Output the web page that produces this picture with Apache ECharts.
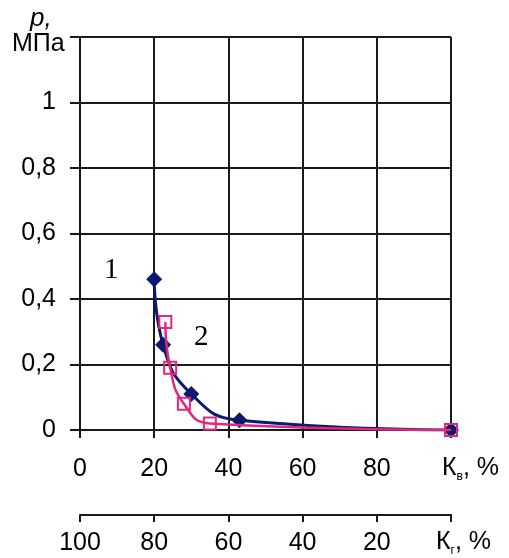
<!DOCTYPE html>
<html>
<head>
<meta charset="utf-8">
<script src="https://cdn.jsdelivr.net/npm/echarts@6/dist/echarts.min.js"></script>
<style>
html,body{margin:0;padding:0;background:#fff;}
#chart{width:509px;height:558px;}
</style>
</head>
<body>
<div id="chart"></div>
<script>
// Data
const kv1 = [20, 22.4, 30, 43, 100];          // Кв, % (curve 1)
const p1 = [0.46, 0.26, 0.11, 0.03, 0];       // p, МПа (curve 1)
const kv2 = [23, 24.3, 28, 35, 100];          // Кв, % (curve 2)
const p2 = [0.33, 0.19, 0.08, 0.02, 0];       // p, МПа (curve 2)
const yTicks = [0, 0.2, 0.4, 0.6, 0.8, 1];
const kvTicks = [0, 20, 40, 60, 80];
const kgTicks = [100, 80, 60, 40, 20];
const seriesNames = ['1', '2'];

const FONT = 'Liberation Sans, Arial, sans-serif';
const chart = echarts.init(document.getElementById('chart'), null, {renderer: 'canvas'});

const axisLineStyle = {color: '#1a1a1a', width: 2};

chart.setOption({
  animation: false,
  backgroundColor: '#fff',
  grid: {left: 80, right: 58, top: 37, bottom: 128},
  xAxis: [
    {
      type: 'value', min: 0, max: 100, interval: 20, position: 'bottom',
      axisLine: {show: true, lineStyle: axisLineStyle},
      axisTick: {show: true, length: 8, lineStyle: axisLineStyle},
      splitLine: {show: true, lineStyle: axisLineStyle},
      axisLabel: {
        margin: 27, color: '#000', fontFamily: FONT, fontSize: 25,
        formatter: v => kvTicks.indexOf(v) >= 0 ? String(v) : ''
      }
    },
    {
      type: 'value', min: 0, max: 100, interval: 20, inverse: true,
      position: 'bottom', offset: 85,
      axisLine: {show: true, lineStyle: axisLineStyle},
      axisTick: {show: true, length: 7, lineStyle: axisLineStyle},
      splitLine: {show: false},
      axisLabel: {
        margin: 16, color: '#000', fontFamily: FONT, fontSize: 25,
        formatter: v => kgTicks.indexOf(v) >= 0 ? String(v) : ''
      }
    }
  ],
  yAxis: {
    type: 'value', min: 0, max: 1.2, interval: 0.2,
    axisLine: {show: true, lineStyle: axisLineStyle},
    axisTick: {show: true, length: 10, lineStyle: axisLineStyle},
    splitLine: {show: true, lineStyle: axisLineStyle},
    axisLabel: {
      margin: 24, color: '#000', fontFamily: FONT, fontSize: 25,
      formatter: v => {
        const r = Number(v.toFixed(1));
        return yTicks.indexOf(r) >= 0 ? String(r).replace('.', ',') : '';
      }
    }
  },
  series: [
    {
      name: seriesNames[0], type: 'line', xAxisIndex: 0,
      data: kv1.map((x, i) => [x, p1[i]]),
      smooth: 0.5,
      symbol: 'diamond', symbolSize: 16,
      itemStyle: {color: '#0d1870'},
      lineStyle: {color: '#0d1870', width: 3},
      z: 3
    },
    {
      name: seriesNames[1], type: 'line', xAxisIndex: 0,
      data: kv2.map((x, i) => [x, p2[i]]),
      smooth: 0.5,
      symbol: 'rect', symbolSize: 12,
      itemStyle: {color: 'rgba(255,255,255,0)', borderColor: '#e0287c', borderWidth: 2},
      lineStyle: {color: '#e0287c', width: 2.5},
      z: 4
    }
  ],
  graphic: [
    {type: 'text', left: 30, top: 6, style: {text: 'p,', font: 'italic 26px ' + FONT, fill: '#000'}},
    {type: 'text', left: 12, top: 32, style: {text: 'МПа', font: '25px ' + FONT, fill: '#000'}},
    {type: 'text', left: 104, top: 256, style: {text: seriesNames[0], font: '29px Liberation Serif, Times New Roman, serif', fill: '#000'}},
    {type: 'text', left: 194, top: 323, style: {text: seriesNames[1], font: '29px Liberation Serif, Times New Roman, serif', fill: '#000'}},
    {type: 'text', left: 442, top: 456, style: {
      text: '{k|К}{s|в}{k|, %}',
      rich: {k: {font: '25px ' + FONT, fill: '#000'}, s: {font: '12px ' + FONT, fill: '#000', padding: [16, 0, 0, 0]}}
    }},
    {type: 'text', left: 436, top: 530, style: {
      text: '{k|К}{s|г}{k|, %}',
      rich: {k: {font: '25px ' + FONT, fill: '#000'}, s: {font: '12px ' + FONT, fill: '#000', padding: [16, 0, 0, 0]}}
    }}
  ]
});
</script>
</body>
</html>
